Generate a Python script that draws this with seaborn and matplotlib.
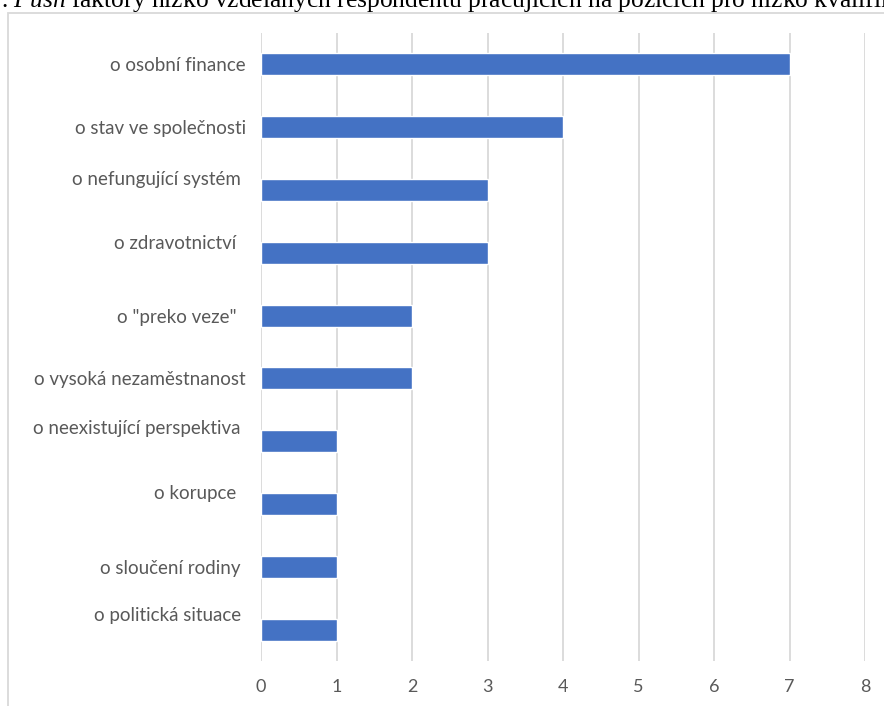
import matplotlib
matplotlib.use("Agg")
import matplotlib.pyplot as plt
import matplotlib.patches as mpatches
from matplotlib.transforms import ScaledTranslation
import seaborn as sns
import pandas as pd

# Push factors and number of respondents naming each
factors = [
    "o osobní finance",
    "o stav ve společnosti",
    "o nefungující systém ",
    "o zdravotnictví  ",
    "o \"preko veze\"  ",
    "o vysoká nezaměstnanost",
    "o neexistující perspektiva ",
    "o korupce  ",
    "o sloučení rodiny ",
    "o politická situace ",
]
counts = [7, 4, 3, 3, 2, 2, 1, 1, 1, 1]
x_ticks = [0, 1, 2, 3, 4, 5, 6, 7, 8]

# vertical nudge (points) for each category label
label_shift = [0, 0, 9, 8, 0, 0, 10, 9, 0, 11]

sns.set_theme(style="white")
plt.rcParams["font.family"] = ["Lato", "DejaVu Sans"]
plt.rcParams["mathtext.fontset"] = "custom"
plt.rcParams["mathtext.rm"] = "Liberation Serif"
plt.rcParams["mathtext.it"] = "Liberation Serif:italic"

df = pd.DataFrame({"factor": factors, "count": counts})

fig = plt.figure(figsize=(8.84, 7.06), dpi=100)
ax = fig.add_axes([261 / 884, 1 - 661 / 706, 604 / 884, 628 / 706])

sns.barplot(data=df, x="count", y="factor", orient="h", color="#4472C4",
            width=0.35, saturation=1, ax=ax)

ax.set_xlim(0, 8)
ax.set_ylim(9.5, -0.5)
ax.set_xticks(x_ticks)
ax.set_xticklabels([str(t) for t in x_ticks])
ax.set_xlabel("")
ax.set_ylabel("")
ax.grid(axis="x", color="#d9d9d9", linewidth=1.3)
ax.set_axisbelow(True)
for s in ax.spines.values():
    s.set_visible(False)
ax.tick_params(axis="x", length=0, pad=13, labelsize=13, labelcolor="#595959")
ax.tick_params(axis="y", length=0, pad=11, labelsize=13.5, labelcolor="#595959")

for lab, dy in zip(ax.get_yticklabels(), label_shift):
    lab.set_transform(lab.get_transform() + ScaledTranslation(0, dy / 72, fig.dpi_scale_trans))

# chart frame
frame = mpatches.Rectangle((8 / 884, -0.05), 1.0, 1 - 12.5 / 706 + 0.05,
                           transform=fig.transFigure, fill=False,
                           edgecolor="#d9d9d9", linewidth=1.3, clip_on=False)
fig.add_artist(frame)

# caption running above the frame
fig.text(1 / 884, 1 - 7.5 / 706,
         ". $\\mathit{Push}$ faktory nízko vzdělaných respondentů pracujících na pozicích pro nízko kvalifikované",
         family="Liberation Serif", fontsize=18.4, color="black", va="baseline", ha="left")

fig.savefig("out.png", dpi=100)
